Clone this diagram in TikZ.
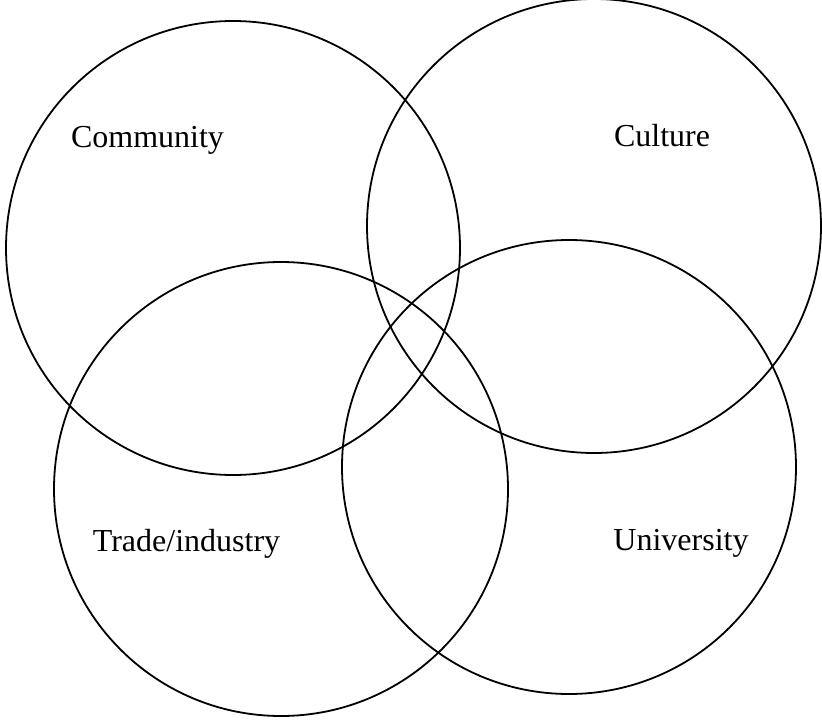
\documentclass[tikz,border=0pt]{standalone}
\usepackage{fontspec}
\setmainfont{Liberation Serif}
\begin{document}
\begin{tikzpicture}[x=1pt, y=-1pt,
  ring/.style={circle, draw=black, line width=1.8pt, inner sep=0pt, minimum size=454pt},
  tag/.style={anchor=base, inner sep=0pt, font=\fontsize{32}{37}\selectfont}]
  \useasboundingbox (0,0) rectangle (822,720);
  % the four overlapping circles
  \node[ring] (community) at (233,248) {};
  \node[ring] (culture)   at (594,226) {};
  \node[ring] (trade)     at (281,489) {};
  \node[ring] (univ)      at (569,467) {};
  % labels
  \node[tag] (lcommunity) at (147.5,147) {Community};
  \node[tag] (lculture)   at (662,146) {Culture};
  \node[tag] (ltrade)     at (186.5,551) {Trade/industry};
  \node[tag] (luniv)      at (681,550) {University};
\end{tikzpicture}
\end{document}
